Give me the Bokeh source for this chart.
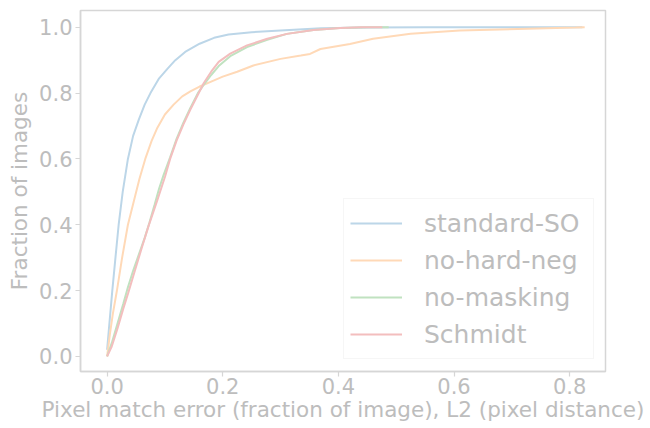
from bokeh.plotting import figure
from bokeh.models import Legend, LegendItem, FixedTicker, PrintfTickFormatter, Range1d
from bokeh.embed import file_html
from bokeh.resources import INLINE

# ---- data ----
series_names = ["standard-SO", "no-hard-neg", "no-masking", "Schmidt"]

std_x = [0, 0.004, 0.009, 0.015, 0.02, 0.027, 0.036, 0.045, 0.055, 0.065, 0.075, 0.09, 0.105,
         0.118, 0.135, 0.16, 0.185, 0.21, 0.25, 0.30, 0.37, 0.45, 0.55, 0.822]
std_y = [0.02, 0.1, 0.2, 0.31, 0.4, 0.5, 0.6, 0.67, 0.72, 0.765, 0.8, 0.845, 0.875,
         0.9, 0.925, 0.95, 0.968, 0.978, 0.985, 0.99, 0.997, 0.999, 1.0, 1.0]

nhn_x = [0, 0.005, 0.01, 0.017, 0.026, 0.036, 0.046, 0.056, 0.066, 0.077, 0.087, 0.1, 0.115,
         0.13, 0.144, 0.16, 0.18, 0.2, 0.225, 0.253, 0.30, 0.335, 0.351, 0.369, 0.42, 0.46,
         0.525, 0.61, 0.71, 0.81, 0.826]
nhn_y = [0.0, 0.07, 0.13, 0.2, 0.3, 0.4, 0.47, 0.54, 0.6, 0.655, 0.695, 0.735, 0.765,
         0.79, 0.805, 0.82, 0.835, 0.85, 0.865, 0.884, 0.904, 0.914, 0.919, 0.934, 0.949, 0.965,
         0.98, 0.99, 0.995, 0.999, 1.0]

nm_x = [0, 0.008, 0.018, 0.028, 0.036, 0.045, 0.055, 0.065, 0.073, 0.082, 0.09, 0.0975, 0.109,
        0.12, 0.132, 0.144, 0.157, 0.167, 0.18, 0.193, 0.213, 0.242, 0.277, 0.311, 0.357, 0.403,
        0.45, 0.487]
nm_y = [0.0, 0.04, 0.1, 0.16, 0.21, 0.26, 0.31, 0.36, 0.405, 0.46, 0.51, 0.55, 0.605,
        0.66, 0.71, 0.755, 0.8, 0.825, 0.855, 0.882, 0.912, 0.94, 0.962, 0.98, 0.992, 0.998,
        1.0, 1.0]

sch_x = [0, 0.008, 0.018, 0.028, 0.036, 0.048, 0.06, 0.0715, 0.086, 0.1, 0.109, 0.12, 0.132,
         0.144, 0.157, 0.167, 0.18, 0.193, 0.213, 0.242, 0.277, 0.311, 0.357, 0.403, 0.44, 0.476]
sch_y = [0.0, 0.03, 0.085, 0.145, 0.19, 0.26, 0.33, 0.395, 0.47, 0.545, 0.6, 0.655, 0.705,
         0.75, 0.795, 0.83, 0.865, 0.895, 0.92, 0.945, 0.965, 0.98, 0.992, 0.998, 1.0, 1.0]

x_ticks = [0.0, 0.2, 0.4, 0.6, 0.8]
y_ticks = [0.0, 0.2, 0.4, 0.6, 0.8, 1.0]

x_label = "Pixel match error (fraction of image), L2 (pixel distance)"
y_label = "Fraction of images"

colors = ["#bcd6e8", "#ffd9b7", "#c0e2c0", "#f3bebe"]
text_color = "#bdbdbd"
frame_color = "#d6d6d6"
FONT = "DejaVu Sans"

p = figure(width=650, height=428, output_backend="svg", toolbar_location=None,
           x_range=Range1d(-0.046, 0.862), y_range=Range1d(-0.046, 1.051),
           min_border_left=80, min_border_right=45, min_border_top=10, min_border_bottom=57)

xs = [std_x, nhn_x, nm_x, sch_x]
ys = [std_y, nhn_y, nm_y, sch_y]
renderers = []
for x, y, c in zip(xs, ys, colors):
    r = p.line(x, y, line_color=c, line_width=2)
    renderers.append(r)

p.xgrid.visible = False
p.ygrid.visible = False
p.outline_line_color = frame_color
p.outline_line_width = 1.5
p.background_fill_color = "white"
p.border_fill_color = "white"

for ax in (p.xaxis[0], p.yaxis[0]):
    ax.axis_line_color = frame_color
    ax.axis_line_width = 1.5
    ax.major_tick_line_color = frame_color
    ax.major_tick_line_width = 1.2
    ax.major_tick_out = 5
    ax.major_tick_in = 0
    ax.minor_tick_line_color = None
    ax.major_label_text_color = text_color
    ax.major_label_text_font = FONT
    ax.major_label_text_font_size = "21px"
    ax.axis_label_text_color = text_color
    ax.axis_label_text_font = FONT
    ax.axis_label_text_font_style = "normal"
    ax.formatter = PrintfTickFormatter(format="%.1f")

p.xaxis[0].ticker = FixedTicker(ticks=x_ticks)
p.yaxis[0].ticker = FixedTicker(ticks=y_ticks)
p.xaxis[0].axis_label = x_label
p.yaxis[0].axis_label = y_label
p.xaxis[0].axis_label_text_font_size = "21.5px"
p.yaxis[0].axis_label_text_font_size = "21.5px"
p.xaxis[0].major_label_standoff = 1
p.xaxis[0].axis_label_standoff = 0
p.yaxis[0].major_label_standoff = 3
p.yaxis[0].axis_label_standoff = 4

legend = Legend(items=[LegendItem(label=n, renderers=[r]) for n, r in zip(series_names, renderers)],
                location=(263, 12), margin=0, padding=6, spacing=1,
                glyph_width=52, glyph_height=36, label_height=36, label_standoff=22,
                label_width=163,
                label_text_font=FONT, label_text_font_size="25px", label_text_color=text_color,
                border_line_color="#ededed", border_line_width=1,
                background_fill_color="white", background_fill_alpha=0.8)
p.add_layout(legend)

open("out.html", "w").write(file_html(p, INLINE))
